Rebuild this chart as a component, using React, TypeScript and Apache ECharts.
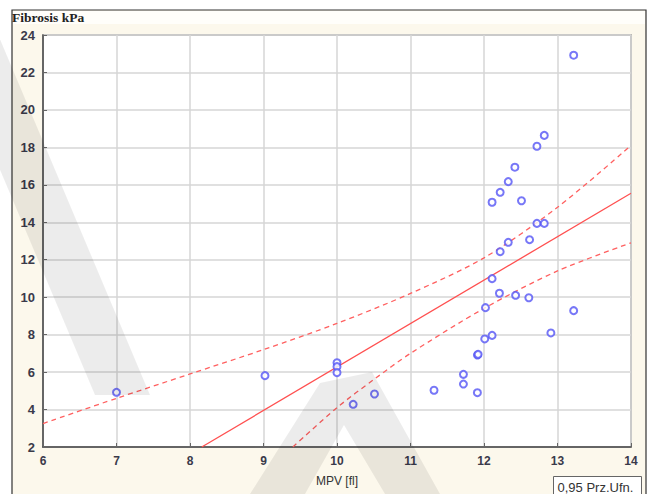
import React, { useEffect, useRef } from "react";
import * as echarts from "echarts";

const xTicks = [6, 7, 8, 9, 10, 11, 12, 13, 14];
const yTicks = [2, 4, 6, 8, 10, 12, 14, 16, 18, 20, 22, 24];

const mpv = [
  7.0, 9.02, 10.0, 10.0, 10.0, 10.22, 10.51, 11.32, 11.72, 11.72, 11.91, 11.91, 11.92,
  12.01, 12.02, 12.11, 12.11, 12.11, 12.21, 12.22, 12.22, 12.33, 12.33, 12.42, 12.43,
  12.51, 12.61, 12.62, 12.72, 12.72, 12.82, 12.82, 12.91, 13.22, 13.22,
];
const fibrosis = [
  4.92, 5.81, 6.5, 6.29, 5.97, 4.28, 4.83, 5.03, 5.88, 5.36, 4.9, 6.91, 6.95,
  7.77, 9.44, 7.96, 10.99, 15.07, 10.21, 12.43, 15.6, 12.93, 16.17, 16.94, 10.1,
  15.15, 9.97, 13.07, 13.94, 18.06, 13.94, 18.64, 8.09, 9.28, 22.92,
];

const regX = [8.16, 14];
const regY = [2, 15.55];

const upperX = [6, 7, 8, 9, 10, 11, 12, 13, 14];
const upperY = [3.25, 4.6, 5.9, 7.2, 8.6, 10.2, 12.1, 14.8, 18.1];

const lowerX = [9.4, 10, 10.5, 11, 12, 13, 14];
const lowerY = [2, 4.1, 5.6, 7.0, 9.4, 11.4, 12.9];

const zip = (a: number[], b: number[]) => a.map((v, i) => [v, b[i]]);

export default function App() {
  const ref = useRef<HTMLDivElement>(null);
  useEffect(() => {
    if (!ref.current) return;
    const chart = echarts.init(ref.current, undefined, { renderer: "svg" });
    const labelStyle = {
      color: "#3a3a4a",
      fontFamily: "Liberation Sans, Arial, sans-serif",
      fontSize: 12,
      fontWeight: "bold" as const,
    };
    const wmStyle = { fill: "rgba(0,0,0,0.075)" };
    chart.setOption({
      animation: false,
      backgroundColor: "#ffffff",
      grid: {
        left: 43,
        right: 19,
        top: 35,
        bottom: 47,
        show: true,
        backgroundColor: "#ffffff",
        borderColor: "#8a8a8a",
        borderWidth: 1.5,
      },
      xAxis: {
        type: "value",
        min: xTicks[0],
        max: xTicks[xTicks.length - 1],
        interval: 1,
        name: "MPV [fl]",
        nameLocation: "middle",
        nameGap: 28,
        nameTextStyle: {
          color: "#333",
          fontFamily: "Liberation Sans, Arial, sans-serif",
          fontSize: 12,
        },
        axisLine: { show: true, lineStyle: { color: "#444", width: 1.5 } },
        axisTick: { show: true, inside: true, length: 4, lineStyle: { color: "#666" } },
        axisLabel: { ...labelStyle, margin: 8 },
        splitLine: { show: true, lineStyle: { color: "#d6d6d6", width: 1.5 } },
      },
      yAxis: {
        type: "value",
        min: yTicks[0],
        max: yTicks[yTicks.length - 1],
        interval: 2,
        axisLine: { show: true, lineStyle: { color: "#444", width: 1.5 } },
        axisTick: { show: true, inside: true, length: 4, lineStyle: { color: "#666" } },
        axisLabel: { ...labelStyle, fontSize: 13, margin: 8 },
        splitLine: { show: true, lineStyle: { color: "#d6d6d6", width: 1.5 } },
      },
      graphic: [
        {
          type: "rect",
          z: -10,
          shape: { x: 12, y: 10, width: 634, height: 490 },
          style: { fill: "#fcf8ec", stroke: "#333", lineWidth: 1.2 },
        },
        {
          type: "rect",
          z: -9,
          shape: { x: 13, y: 11, width: 632, height: 13 },
          style: { fill: "#fffefa" },
        },
        {
          type: "text",
          left: 12,
          top: 10,
          style: {
            text: "Fibrosis kPa",
            fill: "#222",
            font: "bold 13.5px 'Liberation Serif', 'Times New Roman', serif",
          },
        },
        {
          type: "polygon",
          z: 100,
          silent: true,
          shape: { points: [[-80, -20], [-25, -20], [150, 395], [95, 395]] },
          style: wmStyle,
        },
        {
          type: "polygon",
          z: 100,
          silent: true,
          shape: {
            points: [
              [250, 494], [320, 383], [372, 372], [440, 494],
              [385, 494], [344, 425], [305, 494],
            ],
          },
          style: wmStyle,
        },
        {
          type: "group",
          left: 553,
          top: 476,
          z: 110,
          children: [
            {
              type: "rect",
              shape: { x: 0, y: 0, width: 88, height: 24 },
              style: { fill: "#ffffff", stroke: "#666", lineWidth: 1 },
            },
            {
              type: "text",
              x: 4,
              y: 4,
              style: {
                text: "0,95 Prz.Ufn.",
                fill: "#333",
                font: "13px 'Liberation Sans', Arial, sans-serif",
              },
            },
          ],
        },
      ],
      series: [
        {
          type: "line",
          data: zip(upperX, upperY),
          smooth: 0.3,
          showSymbol: false,
          lineStyle: { color: "#ff6060", width: 1.3, type: [5, 4] },
          z: 3,
        },
        {
          type: "line",
          data: zip(lowerX, lowerY),
          smooth: 0.3,
          showSymbol: false,
          lineStyle: { color: "#ff6060", width: 1.3, type: [5, 4] },
          z: 3,
        },
        {
          type: "line",
          data: zip(regX, regY),
          showSymbol: false,
          lineStyle: { color: "#ff5050", width: 1.3 },
          z: 3,
        },
        {
          type: "scatter",
          data: zip(mpv, fibrosis),
          symbol: "emptyCircle",
          symbolSize: 7,
          itemStyle: { color: "#5555f5", borderWidth: 1.2 },
          z: 4,
        },
      ],
    });
    return () => chart.dispose();
  }, []);
  return (
    <div
      ref={ref}
      style={{ position: "fixed", left: 0, top: 0, width: 650, height: 494 }}
    />
  );
}
